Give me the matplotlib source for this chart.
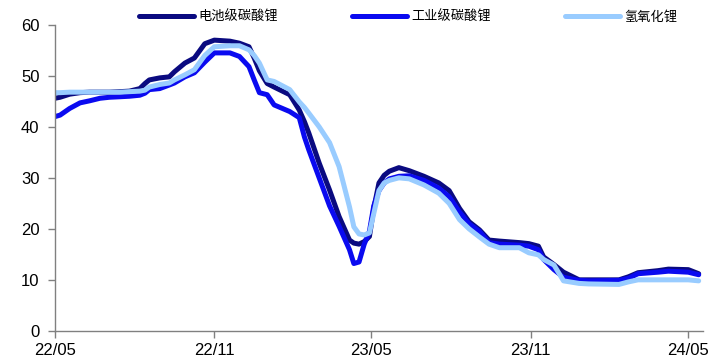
import matplotlib
matplotlib.use("Agg")
import matplotlib.pyplot as plt
import pandas as pd

plt.rcParams['font.family'] = ['Liberation Sans', 'Noto Sans CJK SC', 'DejaVu Sans']

dates = pd.to_datetime([
    "2022-05-01", "2022-05-07", "2022-05-18", "2022-05-30", "2022-06-10", "2022-06-22",
    "2022-07-03", "2022-07-15", "2022-07-26", "2022-08-07", "2022-08-13", "2022-08-18",
    "2022-08-30", "2022-09-10", "2022-09-16", "2022-09-28", "2022-10-09", "2022-10-21",
    "2022-11-01", "2022-11-19", "2022-11-30", "2022-12-11", "2022-12-17", "2022-12-23",
    "2023-01-01", "2023-01-09", "2023-01-27", "2023-02-07", "2023-02-13", "2023-02-18",
    "2023-03-02", "2023-03-14", "2023-03-25", "2023-04-06", "2023-04-11", "2023-04-17",
    "2023-04-23", "2023-04-29", "2023-05-04", "2023-05-10", "2023-05-16", "2023-05-22",
    "2023-06-02", "2023-06-14", "2023-07-01", "2023-07-18", "2023-07-30", "2023-08-11",
    "2023-08-22", "2023-09-03", "2023-09-14", "2023-09-26", "2023-10-19", "2023-10-30",
    "2023-11-10", "2023-11-16", "2023-11-28", "2023-12-09", "2023-12-27", "2024-01-07",
    "2024-02-11", "2024-02-22", "2024-03-04", "2024-03-27", "2024-04-08", "2024-05-01",
    "2024-05-13",
])

battery_grade = [
    45.6, 45.8, 46.4, 46.7, 46.8, 46.8,
    46.8, 46.9, 47.0, 47.5, 48.5, 49.2,
    49.6, 49.8, 50.8, 52.5, 53.5, 56.3,
    57.0, 56.8, 56.4, 55.7, 53.5, 51.0,
    48.5, 47.8, 46.3, 43.3, 41.0, 38.8,
    32.9, 27.6, 22.4, 17.8, 17.2, 17.0,
    17.5, 18.5, 24.0, 29.0, 30.5, 31.3,
    32.0, 31.4, 30.3, 29.0, 27.5, 24.0,
    21.4, 19.8, 17.8, 17.6, 17.3, 17.1,
    16.6, 14.5, 13.0, 11.5, 10.0, 10.0,
    10.0, 10.6, 11.4, 11.8, 12.1, 12.0,
    11.2,
]

industrial_grade = [
    42.0, 42.3, 43.6, 44.7, 45.1, 45.6,
    45.8, 45.9, 46.0, 46.2, 46.6, 47.3,
    47.5, 48.2, 48.6, 49.8, 50.6, 52.7,
    54.5, 54.5, 53.8, 51.8, 49.2, 46.7,
    46.3, 44.3, 43.0, 41.8, 38.0, 35.5,
    30.0, 24.5, 20.5, 15.9, 13.2, 13.5,
    17.0, 19.5, 24.5, 27.5, 29.0, 29.8,
    30.3, 30.4, 29.5, 28.0, 26.3, 23.3,
    21.0, 19.5, 17.3, 17.0, 16.8, 16.6,
    15.9, 14.0, 12.0, 10.5, 9.9, 9.8,
    9.9, 10.3, 11.2, 11.5, 11.7, 11.5,
    11.0,
]

lithium_hydroxide = [
    46.7, 46.7, 46.8, 46.8, 46.8, 46.8,
    46.8, 46.8, 46.9, 47.0, 47.2, 47.8,
    48.3, 48.6, 49.2, 50.2, 51.2, 54.0,
    55.7, 55.9, 55.9, 55.1, 54.0, 52.5,
    49.2, 48.9, 47.3, 44.9, 43.8, 42.7,
    40.0, 36.9, 32.2, 24.3, 20.4, 19.0,
    18.8, 19.2, 23.0, 27.5, 29.0, 29.5,
    30.0, 29.8, 28.6, 27.0, 25.0, 21.8,
    20.0, 18.4, 17.0, 16.3, 16.3, 15.3,
    14.9, 14.0, 12.9, 9.8, 9.3, 9.2,
    9.1, 9.6, 10.0, 10.0, 10.0, 10.0,
    9.8,
]

series_names = ["电池级碳酸锂", "工业级碳酸锂", "氢氧化锂"]
series_colors = ["#0A0A80", "#0A0AF0", "#99CCFF"]
tick_dates = pd.to_datetime(["2022-05-01", "2022-11-01", "2023-05-01", "2023-11-01", "2024-05-01"])
tick_labels = ["22/05", "22/11", "23/05", "23/11", "24/05"]
y_ticks = [0, 10, 20, 30, 40, 50, 60]

fig = plt.figure(figsize=(7.13, 3.6), dpi=100)
ax = fig.add_axes([0.077, 0.081, 0.909, 0.850])

handles = []
for vals, name, color in zip([battery_grade, industrial_grade, lithium_hydroxide],
                             series_names, series_colors):
    h, = ax.plot(dates, vals, color=color, lw=3.6, label=name,
                 solid_joinstyle="round", solid_capstyle="round")
    handles.append(h)

ax.set_xlim(pd.Timestamp("2022-05-01"), pd.Timestamp("2024-05-18"))
ax.set_ylim(0, 60)
ax.set_xticks(tick_dates)
ax.set_xticklabels(tick_labels)
ax.set_yticks(y_ticks)

for side in ["top", "right"]:
    ax.spines[side].set_visible(False)
for side in ["left", "bottom"]:
    ax.spines[side].set_color("#808080")
    ax.spines[side].set_linewidth(1.0)
ax.tick_params(axis="both", direction="out", length=5, width=1.0,
               color="#808080", labelsize=12, labelcolor="black")
ax.tick_params(axis="x", pad=4)
ax.tick_params(axis="y", pad=6)

fig.legend(handles=handles, labels=series_names, loc="center left",
           bbox_to_anchor=(139 / 713, 1 - 17 / 360), ncol=3, frameon=False,
           borderpad=0, borderaxespad=0,
           prop={"family": ["Noto Sans CJK SC", "DejaVu Sans"], "size": 9.5},
           handlelength=4.2, handletextpad=0.3, columnspacing=5.6)

fig.savefig("out.png", dpi=100)
